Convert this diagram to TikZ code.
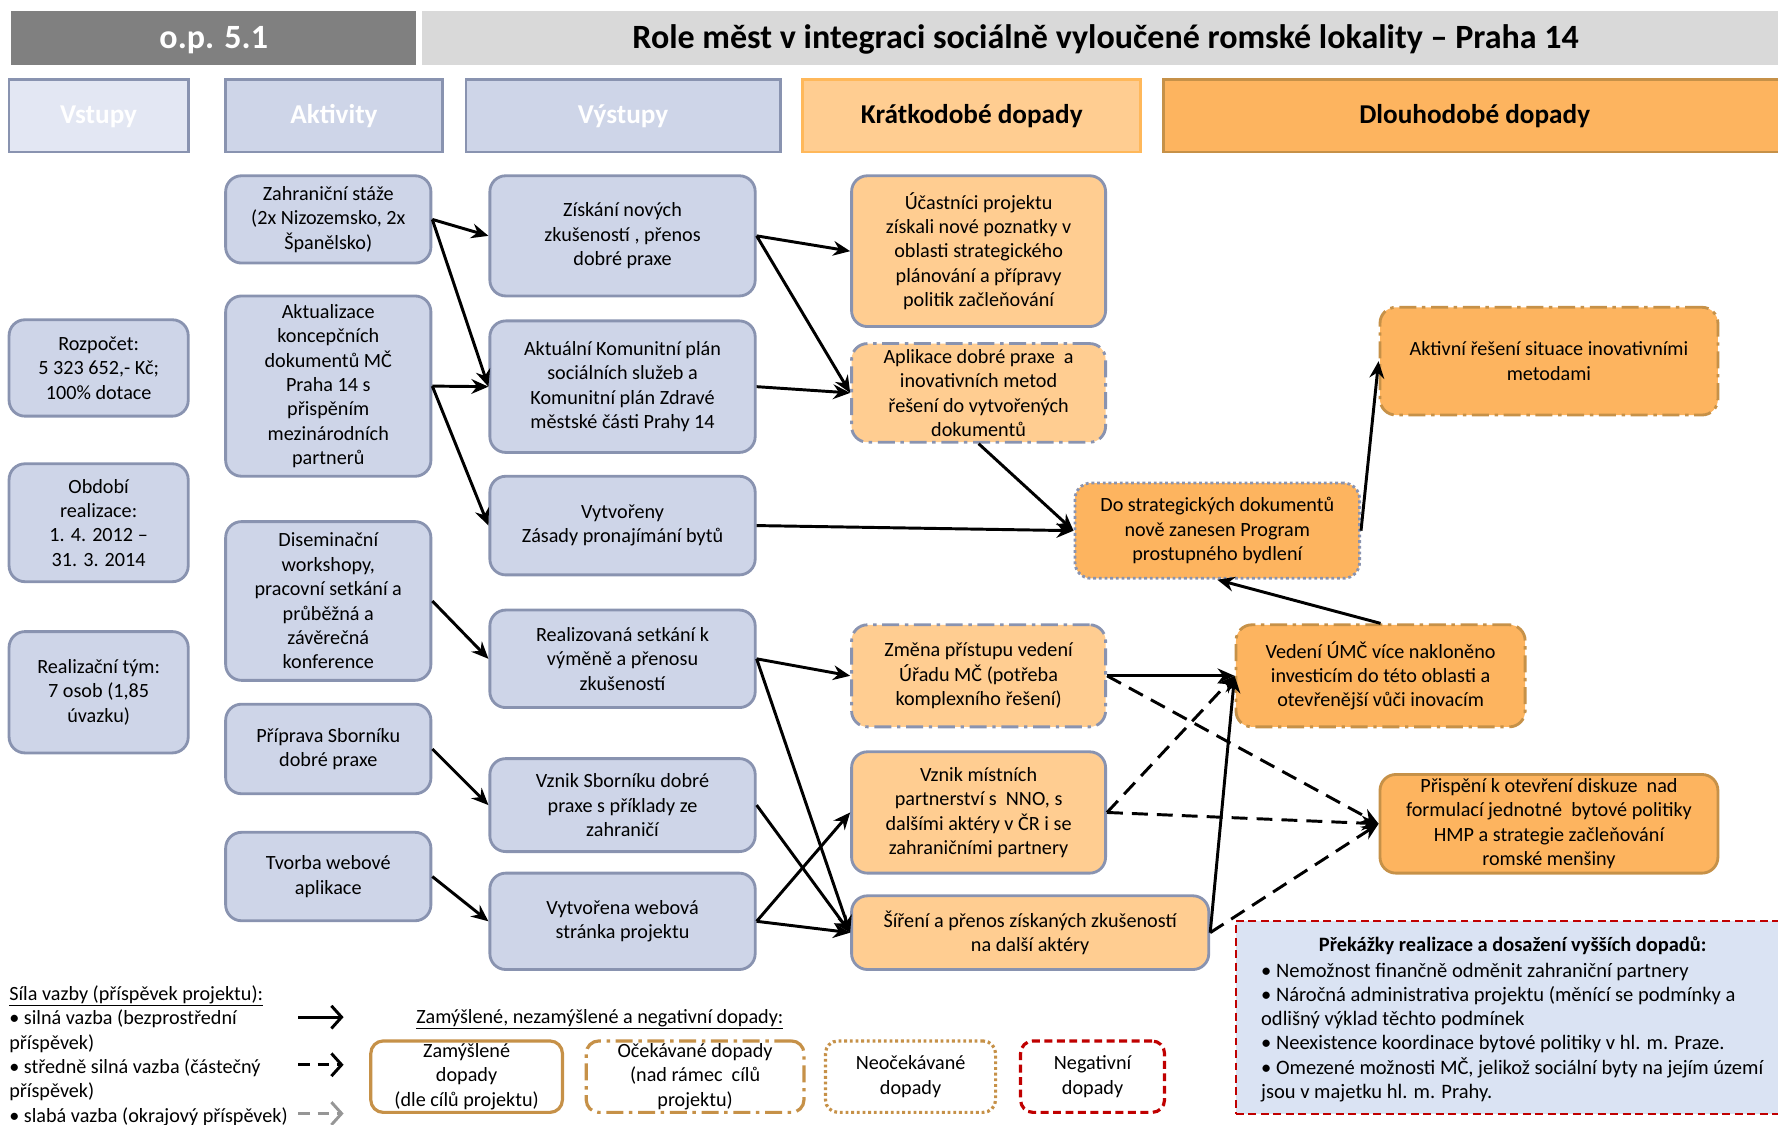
\documentclass[tikz,border=0pt]{standalone}
\usepackage{fontspec}
\setmainfont{Carlito}
\usetikzlibrary{arrows.meta}
\definecolor{bluefill}{RGB}{206,213,232}
\definecolor{bluebord}{RGB}{137,147,176}
\definecolor{lightblue}{RGB}{227,231,243}
\definecolor{orlight}{RGB}{255,205,145}
\definecolor{ordark}{RGB}{253,180,95}
\definecolor{orbord}{RGB}{255,184,90}
\definecolor{brownb}{RGB}{198,145,72}
\definecolor{redb}{RGB}{192,0,0}
\definecolor{obsfill}{RGB}{218,227,243}
\definecolor{hdrdark}{RGB}{128,128,128}
\definecolor{hdrlight}{RGB}{217,217,217}
\definecolor{greyarr}{RGB}{150,150,150}
\newcommand\bodyfont{\fontsize{17.8}{21.5}\selectfont}
\newcommand\obsfont{\fontsize{18.1}{21.4}\selectfont}
\newcommand\hdrfont{\fontsize{24}{26}\selectfont\bfseries}
\newcommand\titlefont{\fontsize{30}{32}\selectfont\bfseries}
\tikzset{
  box/.style={line width=2.5pt, rounded corners=14pt, align=center, inner sep=0pt, font=\bodyfont, draw=bluebord},
  bbox/.style={box, fill=bluefill},
  sbox/.style={box, fill=orlight},
  lbox/.style={box, fill=ordark},
  legbox/.style={box, draw=brownb, fill=white, line width=2.8pt, rounded corners=11pt},
  dashdot/.style={dash pattern=on 15pt off 5pt on 3pt off 5pt},
  dotline/.style={dash pattern=on 2.5pt off 2.5pt},
  hdr/.style={line width=2.5pt, align=center, inner sep=0pt, font=\hdrfont, minimum height=64pt, text height=17pt, text depth=3pt},
  bar/.style={inner sep=0pt, minimum height=47pt},
  arr/.style={line width=2.6pt, -{Stealth[length=15pt,width=13pt,inset=5pt]}},
  darr/.style={arr, dash pattern=on 14pt off 8pt},
  legarr/.style={line width=2.6pt, -{Straight Barb[length=9pt,width=20pt,line width=2.6pt]}},
  sz/.style n args={2}{minimum width=#1, minimum height=#2}
}
\begin{document}
\begin{tikzpicture}[x=1pt,y=-1pt]
\clip (0,0) rectangle (1568,992);
% title bars
\node[bar, fill=hdrdark, sz={357}{47}] (op) at (188.5,33.5) {};
\node[inner sep=0pt, font=\titlefont, text=white] (optext) at (188.5,35) {o.p. 5.1};
\node[bar, fill=hdrlight, sz={1196}{47}] (title) at (970,33.5) {};
\node[inner sep=0pt, font=\titlefont] (titletext) at (975,35) {Role měst v integraci sociálně vyloučené romské lokality – Praha 14};
% column headers
\node[hdr, fill=lightblue, draw=bluebord, text=white, minimum width=158] (h1) at (87,102) {Vstupy};
\node[hdr, fill=bluefill, draw=bluebord, text=white, minimum width=191] (h2) at (294.5,102) {Aktivity};
\node[hdr, fill=bluefill, draw=bluebord, text=white, minimum width=277] (h3) at (549.5,102) {Výstupy};
\node[hdr, fill=orlight, draw=orbord, minimum width=298] (h4) at (857,102) {Krátkodobé dopady};
\node[hdr, fill=ordark, draw=brownb, minimum width=549] (h5) at (1300.5,102) {Dlouhodobé dopady};
% inputs
\node[bbox, sz={158}{85}] (I1) at (87,324.5) {Rozpočet:\\5 323 652,- Kč;\\100\% dotace};
\node[bbox, sz={158}{104}] (I2) at (87,461) {Období\\realizace:\\1. 4. 2012 –\\31. 3. 2014};
\node[bbox, sz={158}{107}] (I3) at (87,610.5) {Realizační tým:\\7 osob (1,85\\úvazku)};
% activities
\node[bbox, sz={181}{77}] (A1) at (289.5,193.5) {Zahraniční stáže\\(2x Nizozemsko, 2x\\Španělsko)};
\node[bbox, sz={181}{159}] (A2) at (289.5,340.5) {Aktualizace\\koncepčních\\dokumentů MČ\\Praha 14 s\\přispěním\\mezinárodních\\partnerů};
\node[bbox, sz={181}{140}] (A3) at (289.5,530) {Diseminační\\workshopy,\\pracovní setkání a\\průběžná a\\závěrečná\\konference};
\node[bbox, sz={181}{79}] (A4) at (289.5,660.5) {Příprava Sborníku\\dobré praxe};
\node[bbox, sz={181}{78}] (A5) at (289.5,773) {Tvorba webové\\aplikace};
% outputs
\node[bbox, sz={234}{106}] (O1) at (549,208) {Získání nových\\zkušeností , přenos\\dobré praxe};
\node[bbox, sz={234}{116}] (O2) at (549,341) {Aktuální Komunitní plán\\sociálních služeb a\\Komunitní plán Zdravé\\městské části Prahy 14};
\node[bbox, sz={234}{87}] (O3) at (549,463.5) {Vytvořeny\\Zásady pronajímání bytů};
\node[bbox, sz={234}{86}] (O4) at (549,581) {Realizovaná setkání k\\výměně a přenosu\\zkušeností};
\node[bbox, sz={234}{82}] (O5) at (549,710) {Vznik Sborníku dobré\\praxe s příklady ze\\zahraničí};
\node[bbox, sz={234}{85}] (O6) at (549,812.5) {Vytvořena webová\\stránka projektu};
% short-term
\node[sbox, sz={224}{133}] (S1) at (863,221.5) {Účastníci projektu\\získali nové poznatky v\\oblasti strategického\\plánování a přípravy\\politik začleňování};
\node[sbox, dashdot, sz={224}{87}] (S2) at (863,346.5) {Aplikace dobré praxe\ \ a\\inovativních metod\\řešení do vytvořených\\dokumentů};
\node[sbox, dashdot, sz={224}{90}] (S3) at (863,596) {Změna přístupu vedení\\Úřadu MČ (potřeba\\komplexního řešení)};
\node[sbox, sz={224}{107}] (S4) at (863,716.5) {Vznik místních\\partnerství s\ \ NNO, s\\dalšími aktéry v ČR i se\\zahraničními partnery};
\node[sbox, sz={315}{65}] (S5) at (908.5,822.5) {Šíření a přenos získaných zkušeností\\na další aktéry};
% long-term
\node[lbox, dotline, sz={251}{84}] (L1) at (1073.5,468) {Do strategických dokumentů\\nově zanesen Program\\prostupného bydlení};
\node[lbox, dashdot, draw=brownb, sz={298}{95}] (L2) at (1366,318.5) {Aktivní řešení situace inovativními\\metodami};
\node[lbox, dashdot, draw=brownb, sz={255}{90}] (L3) at (1217.5,596) {Vedení ÚMČ více nakloněno\\investicím do této oblasti a\\otevřenější vůči inovacím};
\node[lbox, draw=brownb, sz={298}{87}] (L4) at (1366,726.5) {Přispění k otevření diskuze\ \ nad\\formulací jednotné\ \ bytové politiky\\HMP a strategie začleňování\\romské menšiny};
% obstacles
\node[draw=redb, fill=obsfill, line width=1.8pt, dash pattern=on 7pt off 4pt, sz={485}{170}] (OB) at (1332.5,897) {};
\node[font=\fontsize{18}{21}\selectfont\bfseries, inner sep=0pt] (OBt) at (1334,834) {Překážky realizace a dosažení vyšších dopadů:};
\node[font=\obsfont, align=left, inner sep=0pt, anchor=north west] (OBl) at (1112,849) {• Nemožnost finančně odměnit zahraniční partnery\\• Náročná administrativa projektu (měnící se podmínky a\\odlišný výklad těchto podmínek\\• Neexistence koordinace bytové politiky v hl. m. Praze.\\• Omezené možnosti MČ, jelikož sociální byty na jejím území\\jsou v majetku hl. m. Prahy.};
% arrows activities -> outputs
\draw[arr] (A1.east) -- (O1.west);
\draw[arr] (A1.east) -- (O2.west);
\draw[arr] (A2.east) -- (O2.west);
\draw[arr] (A2.east) -- (O3.west);
\draw[arr] (A3.east) -- (O4.west);
\draw[arr] (A4.east) -- (O5.west);
\draw[arr] (A5.east) -- (O6.west);
% outputs -> short-term
\draw[arr] (O1.east) -- (S1.west);
\draw[arr] (O1.east) -- (S2.west);
\draw[arr] (O2.east) -- (S2.west);
\draw[arr] (O3.east) -- (L1.west);
\draw[arr] (O4.east) -- (S3.west);
\draw[arr] (O4.east) -- (S5.west);
\draw[arr] (O5.east) -- (S5.west);
\draw[arr] (O6.east) -- (S4.west);
\draw[arr] (O6.east) -- (S5.west);
% short-term -> long-term
\draw[arr] (S2.south) -- (L1.west);
\draw[arr] (L1.east) -- (L2.west);
\draw[arr] (L3.north) -- (L1.south);
\draw[arr] (S3.east) -- (L3.west);
\draw[arr] (S5.east) -- (L3.west);
\draw[darr] (S3.east) -- (L4.west);
\draw[darr] (S4.east) -- (L3.west);
\draw[darr] (S4.east) -- (L4.west);
\draw[darr] (S5.east) -- (L4.west);
% legend
\node[font=\bodyfont, align=left, inner sep=0pt, anchor=north west] (leg1) at (8,869) {\underline{Síla vazby (příspěvek projektu):}\\• silná vazba (bezprostřední\\příspěvek)\\• středně silná vazba (částečný\\příspěvek)\\• slabá vazba (okrajový příspěvek)};
\coordinate (la1) at (263,897); \coordinate (lb1) at (303,897);
\coordinate (la2) at (263,939); \coordinate (lb2) at (303,939);
\coordinate (la3) at (263,982); \coordinate (lb3) at (303,982);
\draw[legarr] (la1) -- (lb1);
\draw[legarr, dash pattern=on 10pt off 7pt] (la2) -- (lb2);
\draw[legarr, greyarr, dash pattern=on 10pt off 7pt] (la3) -- (lb3);
\node[font=\bodyfont, inner sep=0pt] (leg2) at (529,899) {\underline{Zamýšlené, nezamýšlené a negativní dopady:}};
\node[legbox, sz={169}{63}] (LZ) at (411.5,949.5) {Zamýšlené\\dopady\\(dle cílů projektu)};
\node[legbox, dashdot, sz={192}{63}] (LO) at (613,949.5) {Očekávané dopady\\(nad rámec\ \ cílů\\projektu)};
\node[legbox, dotline, sz={150}{63}] (LN) at (803,949.5) {Neočekávané\\dopady};
\node[legbox, draw=redb, dash pattern=on 7pt off 4pt, sz={127}{63}] (LG) at (963.5,949.5) {Negativní\\dopady};
\end{tikzpicture}
\end{document}
